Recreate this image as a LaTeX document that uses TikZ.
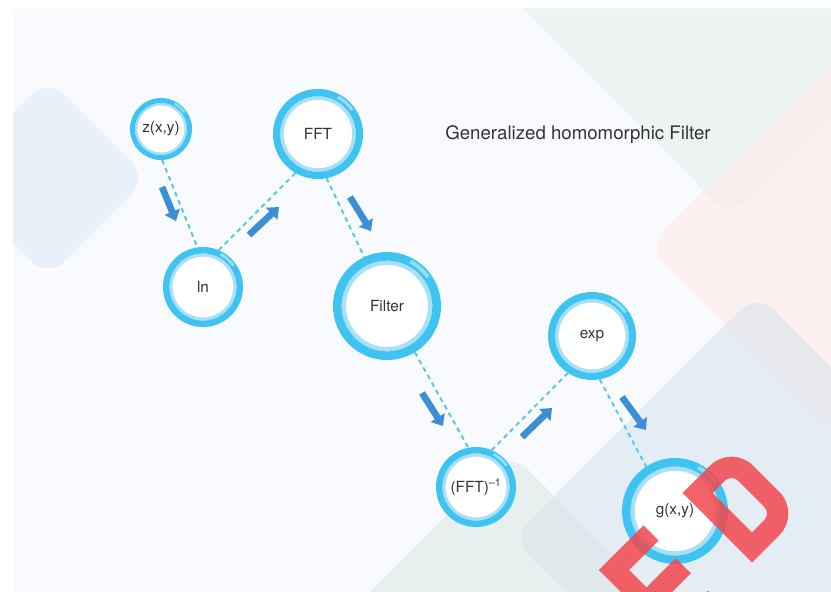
\documentclass[tikz,border=0pt]{standalone}
\usepackage{fontspec}
\setmainfont{TeX Gyre Heros}
\usetikzlibrary{arrows.meta}
\definecolor{ringblue}{HTML}{3FC3F1}
\definecolor{ringlight}{HTML}{A9E0F8}
\definecolor{dashblue}{HTML}{5AC8EE}
\definecolor{arrowblue}{HTML}{3C8FD4}
\definecolor{textgrey}{HTML}{333333}
\definecolor{stampred}{HTML}{F2474D}
\definecolor{pagebg}{HTML}{F8FAFD}
\definecolor{blobblue}{HTML}{DAEAF9}
\definecolor{blobgreen}{HTML}{E4EEEB}
\definecolor{blobpink}{HTML}{FFEAE7}
\definecolor{blobgrey}{HTML}{D4E2ED}
\definecolor{blobsea}{HTML}{D8E6E3}

\begin{document}
\begin{tikzpicture}[
  x=0.75pt, y=-0.75pt,
  ring/.style={circle, draw=ringblue, fill=white, inner sep=0pt,
    line width={0.16*#1*0.75pt}, minimum size={1.84*#1*0.75pt},
    path picture={\draw[ringlight, line width={0.08*#1*0.75pt}]
      (path picture bounding box.center) circle ({0.80*#1*0.75pt});},
    font=\fontsize{11.5}{13}\selectfont, text=textgrey},
  gloss/.style={draw=white, opacity=.45},
  link/.style={draw=dashblue, line width=1.5pt, dash pattern=on 3.5pt off 3pt},
  flow/.style={draw=arrowblue, line width=5pt, -{Triangle[width=12pt,length=7.5pt]}},
  stamp/.style={draw=stampred, line width=16pt, opacity=.85, line join=miter},
  blob/.style={fill=#1, fill opacity=.5, rounded corners=18pt},
]
\useasboundingbox (0,0) rectangle (831,592);
\fill[white] (0,0) rectangle (831,592);
\fill[pagebg] (13,9) rectangle (831,592);

% background shapes
\begin{scope}
\clip (13,9) rectangle (831,592);
\fill[blob=blobblue] (48,78) -- (148,178) -- (48,278) -- (-52,178) -- cycle;
\fill[blob=blobgreen] (502,-11) -- (731,218) -- (861,88) -- (861,-11) -- cycle;
\fill[blob=blobpink] (647,247) -- (840,54) -- (1033,247) -- (840,440) -- cycle;
\fill[blob=blobgrey] (757,293) -- (1000,536) -- (757,779) -- (512,538) -- cycle;
\fill[blob=blobsea] (510,452) -- (700,642) -- (510,832) -- (320,642) -- cycle;
\end{scope}

\node[ring=31] (z) at (161,129) {z(x,y)};
\node[ring=45] (fft) at (318,134) {FFT};
\node[ring=40] (ln) at (203,287) {ln};
\node[ring=54] (filter) at (387,306) {Filter};
\node[ring=44] (exp) at (592,336) {exp};
\node[ring=40] (ffti) at (476,487) {(FFT)\textsuperscript{–1}};
\node[ring=53] (g) at (675,511) {g(x,y)};
\node[font=\fontsize{14}{16}\selectfont, text=textgrey] (title) at (578,135)
  {Generalized homomorphic Filter};

% glossy spots on the rings
\foreach \n/\r in {z/31, fft/45, ln/40, filter/54, exp/44, ffti/40, g/53}{
  \draw[gloss, line width={0.07*\r*0.75pt}] (\n.center) ++(-35:{0.93*\r})
    arc[start angle=-35, end angle=-62, radius={0.93*\r}];
}

\draw[link] (z.-88) -- (ln.98);
\draw[link] (ln.67) -- (fft.240);
\draw[link] (fft.-79) -- (filter.115);
\draw[link] (filter.-59) -- (ffti.101);
\draw[link] (ffti.67) -- (exp.237);
\draw[link] (exp.-80) -- (g.123);

\foreach \i/\ax/\ay/\bx/\by in {1/162/187/176/221, 2/249/235/279/207,
    3/350/197/371/231, 4/422/393/443/426, 5/522/437/552/408, 6/622/397/646/430}{
  \coordinate (f\i s) at (\ax,\ay);
  \coordinate (f\i e) at (\bx,\by);
  \draw[flow] (f\i s) -- (f\i e);
}

% red stamp
\begin{scope}
\clip (0,0) rectangle (831,592);
\draw[stamp] (651,533) -- (614,570) -- (685,641)
  (646.5,602.5) -- (683.3,565.7) (679,635) -- (715.8,598.2);
\draw[stamp] (724.8,520.2) -- (752,547.4) [rounded corners=15pt] -- (785.9,513.5)
  -- (731.5,459.1) [sharp corners] -- (697.6,493) -- cycle;
\end{scope}
\end{tikzpicture}
\end{document}
